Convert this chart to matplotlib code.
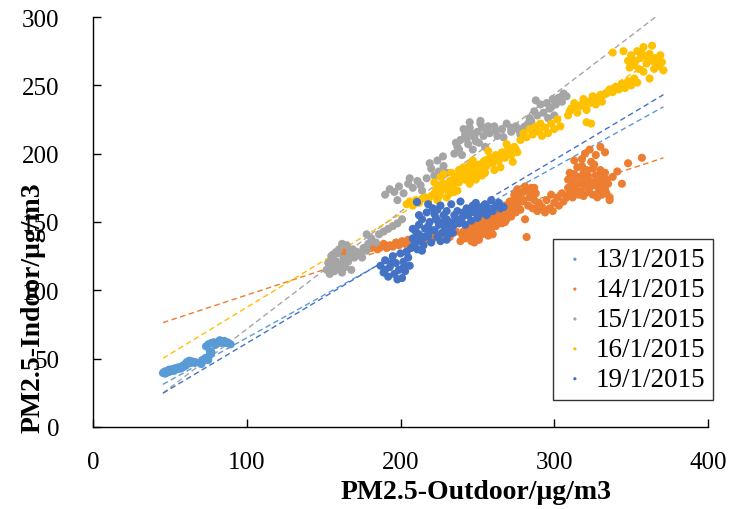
import numpy as np
import matplotlib
matplotlib.use("Agg")
import matplotlib.pyplot as plt

plt.rcParams['font.family'] = ['Liberation Serif', 'DejaVu Serif']

# ---- series labels and colours ----
labels = ["13/1/2015", "14/1/2015", "15/1/2015", "16/1/2015", "19/1/2015"]
colors = ["#5B9BD5", "#ED7D31", "#A5A5A5", "#FFC000", "#4472C4"]

# ---- 13/1/2015 ----
x13 = [45.5, 46.5, 47, 48, 48.5, 49.5, 50, 51, 52, 52.5, 53.5, 54, 55, 56, 57, 57.5, 58.5, 59, 60,
       60.5, 61, 62, 62.5, 63.5, 64.5, 65.5, 66.5,
       69.5, 70.5, 71, 72, 73, 74, 75, 75.5, 76.5, 77, 76,
       73.5, 75, 77, 78.5, 79.5, 80.5, 81.5, 82.5, 83.5, 84.5, 85.5, 86.5, 87.5, 88.5, 89.5]
y13 = [39.5, 40.5, 39, 41, 40, 42, 40.5, 41.5, 42.5, 41, 43, 42, 43.5, 42.5, 44, 43, 45, 44, 46,
       45, 47.5, 46.5, 48.5, 47, 48, 47, 47.5,
       47, 46, 49, 48.5, 50.5, 50, 49, 52, 53.5, 55, 55.5,
       59, 60.5, 61.5, 62, 60, 61, 62.5, 63.5, 61.5, 62.5, 63, 61.5, 62, 61, 60.5]

# ---- 14/1/2015 ----
x14 = [156, 160, 163, 165, 167,
       181, 183, 185, 187, 189, 191, 193, 195, 197, 199, 201, 203, 205, 207, 209, 211, 213, 215, 217,
       219, 221, 223,
       226, 229, 232, 236, 239, 240, 242, 243, 245, 246, 247, 248, 249, 250, 251, 252, 253, 254, 255,
       256, 257, 258, 259, 260,
       244, 248, 252, 256, 260, 264, 268, 272, 276, 280, 284, 288, 241, 250, 258, 266, 274,
       261, 262, 263, 264, 265, 266, 267, 268, 269, 270, 271, 272, 273, 274, 275, 276, 277, 278, 279,
       280, 281, 282, 283, 284, 285, 286, 287, 288, 289, 290, 276, 281, 287,
       292, 294, 295, 297, 298, 299, 300, 302, 303, 305, 306,
       308, 309, 310, 311, 312, 313, 314, 315, 316, 317, 318, 319, 320, 321, 322, 323, 324, 325, 326,
       327, 328, 329, 330, 331, 332, 333, 334, 335, 336, 318, 320, 323, 327, 330, 333, 326, 313,
       309, 311, 313, 315, 317, 319, 321, 323, 325, 327, 329, 331, 333, 310, 314, 318, 322, 326, 330,
       334,
       338, 341, 344, 348, 357, 336]
y14 = [126, 128, 125, 129, 127,
       131, 133, 130, 132, 134, 131, 133, 132, 135, 133, 136, 134, 137, 135, 136, 138, 136, 139, 137,
       140, 138, 141,
       140, 142, 139, 143, 136, 141, 138, 145, 140, 136, 143, 148, 139, 144, 137, 146, 141, 150, 143,
       147, 140, 152, 145, 149,
       147, 135, 150, 144, 141, 156, 150, 162, 167, 166, 172, 160, 143, 148, 155, 150, 170,
       154, 147, 157, 151, 160, 149, 155, 162, 152, 158, 165, 154, 160, 167, 157, 163, 170, 159, 165,
       172, 152, 139, 162, 168, 175, 160, 166, 171, 158, 164, 174, 176, 175,
       161, 157, 166, 160, 170, 158, 164, 168, 162, 171, 165,
       168, 175, 171, 180, 168, 185, 174, 190, 170, 178, 183, 169, 176, 188, 172, 180, 194, 170, 177,
       184, 168, 173, 180, 170, 176, 186, 171, 178, 168, 196, 200, 203, 199, 205, 201, 192, 195,
       181, 173, 178, 183, 172, 186, 179, 175, 189, 180, 176, 183, 174, 186, 171, 191, 184, 178, 188,
       181,
       183, 187, 178, 193, 197, 166]

# ---- 15/1/2015 ----
x15 = [152, 153, 154, 155, 156, 157, 158, 159, 160, 161, 162, 163, 164, 165, 166, 167, 168, 169,
       170, 172, 174, 176, 178, 179, 162, 158, 155, 159, 163, 167, 171, 175,
       181, 184, 186, 189, 192, 195, 198, 201, 178,
       190, 193, 196, 199, 202, 205, 208, 211, 213, 198, 206, 214,
       217, 220, 222, 225, 228, 230, 227.6, 219, 224,
       235, 237, 239, 240, 242, 244, 245, 247, 248, 250, 251, 252, 254, 255, 256,
       236, 238, 241, 243, 246, 249, 253, 257, 262, 267, 272, 277, 281, 285,
       258, 261, 263, 266, 269, 272, 275, 278, 280, 283, 286,
       284, 287, 289, 291, 288,
       293, 295, 297, 299, 301, 303, 305, 308, 300, 296, 245, 252, 298, 302, 306]
y15 = [115, 120, 112, 118, 124, 114, 121, 116, 130, 119, 113, 123, 117, 133, 121, 126, 115, 130,
       124, 128, 126, 131, 129, 134, 134, 128, 125, 127, 120, 129, 127, 124,
       138, 135, 141, 143, 145, 147, 149, 152, 141,
       170, 174, 172, 176, 171, 178, 175, 180, 177, 166, 182, 173,
       182, 189, 184, 187, 191, 186, 198, 193, 195,
       200, 205, 210, 199, 214, 207, 219, 203, 212, 216, 208, 222, 213, 205, 218,
       208, 203, 218, 211, 215, 209, 219, 220, 217, 212, 219, 217, 220, 224,
       215, 220, 213, 218, 222, 216, 220, 214, 219, 222, 217,
       226, 231, 228, 236, 239,
       230, 237, 233, 240, 236, 241, 238, 242, 228, 226, 223, 224, 234, 240, 244]

# ---- 16/1/2015 ----
x16 = [204, 206, 208, 210, 212, 214, 216, 218, 220,
       222, 224, 226, 228, 230, 232, 234, 236, 238, 240, 242, 244, 246, 248, 250, 225, 235, 245,
       223, 227, 231, 235, 239, 243, 247, 251, 255, 259, 263, 267, 271, 275,
       222, 226, 230, 233, 237, 241, 245, 249, 224, 228, 232, 238, 247, 253, 257, 261, 269, 273,
       252, 254, 256, 258, 260, 262, 264, 266, 268, 270, 272, 274, 276, 255, 265,
       278, 280, 282, 284, 286, 288, 290, 291,
       292, 294, 296, 298, 300, 302, 304,
       309, 311, 313, 315, 317, 319, 321, 321, 324, 323, 325, 327, 329, 331, 332,
       310, 314, 318, 322, 326, 330,
       334, 336, 338, 340, 342, 344, 346, 348, 350, 352, 354,
       338, 345,
       348, 350, 352, 354, 356, 358, 360, 362, 362, 363.6, 365, 366, 368, 370, 371, 358, 355,
       349, 353, 357, 361, 365, 369]
y16 = [163, 165, 162, 166, 164, 167, 168, 165, 169,
       171, 175, 172, 178, 174, 180, 176, 183, 179, 185, 181, 188, 183, 190, 186, 169, 172, 178,
       173, 177, 176, 181, 182, 186, 187, 192, 195, 195, 197, 200, 202, 203,
       179, 183, 168, 186, 173, 190, 192, 181, 166, 185, 171, 188, 195, 184, 202, 188, 207, 194,
       189, 194, 191, 197, 193, 199, 195, 201, 197, 204, 199, 205, 201, 186, 190,
       210, 215, 212, 218, 214, 220, 216, 222,
       213, 219, 215, 222, 218, 225, 220,
       228, 233, 237, 230, 235, 240, 232, 223, 222, 237, 242, 236, 240, 238, 243,
       231, 234, 236, 238, 241, 243,
       244, 247, 245, 249, 247, 251, 248, 253, 250, 255, 252,
       274, 275,
       268, 272, 265, 275, 270, 278, 266, 273, 255, 279, 262, 270, 264, 267, 261, 260, 262,
       263, 268, 273, 270, 267, 272]

# ---- 19/1/2015 ----
x19 = [187, 189, 190, 192, 193, 195, 196, 197, 199, 200, 201, 202, 203, 205, 206,
       190, 194, 198, 202, 204,
       207, 208, 209, 210, 211, 212, 213, 214, 215, 216, 217, 218, 219, 220, 221, 222, 223, 224, 225,
       226, 227, 228, 229, 230, 231, 232, 233, 234, 235, 236, 237, 210.7,
       208, 210, 212, 214, 216, 218, 220, 222, 224, 226, 228, 230, 232, 234, 236, 212, 218, 224, 230,
       238, 239, 240, 242, 243, 244, 246, 247, 248, 250, 251, 252, 254, 255, 256, 258, 259, 260, 262,
       264, 265, 267, 241, 245, 249, 253, 257]
y19 = [118, 113, 122, 110, 117, 125, 112, 120, 115, 127, 109, 121, 114, 124, 118,
       115, 120, 108, 117, 128,
       131, 138, 134, 143, 130, 148, 137, 152, 133, 145, 157, 140, 150, 135, 160, 144, 153, 139, 148,
       162, 142, 155, 146, 158, 141, 150, 163, 147, 155, 152, 158, 164.6,
       145, 135, 141, 129, 139, 147, 144, 156, 151, 136, 150, 137, 145, 142, 149, 155, 163, 159, 152,
       149, 165, 153, 148, 160, 155, 151, 162, 157, 153, 160, 156, 158, 163, 155, 160, 166, 158, 162,
       164, 160, 161, 157, 158, 164, 161, 157]

series_x = [x13, x14, x15, x16, x19]
series_y = [y13, y14, y15, y16, y19]

# linear trendline coefficients (slope, intercept) for each day
trend_slope = [0.624, 0.3705, 0.859, 0.683, 0.671]
trend_intercept = [2.8, 59.5, -14.3, 19.2, -5.8]

fig = plt.figure(figsize=(7.35, 5.10), dpi=100)
ax = fig.add_axes([0.1265, 0.1608, 0.8368, 0.8039])

for xs, ys, c, lab in zip(series_x, series_y, colors, labels):
    ax.scatter(xs, ys, s=34, color=c, edgecolors='none', label=lab, zorder=3)

all_x = np.concatenate([np.asarray(v, float) for v in series_x])
xr = np.array([all_x.min(), all_x.max()])
for m, b, c in zip(trend_slope, trend_intercept, colors):
    ax.plot(xr, m * xr + b, color=c, lw=1.0, ls=(0, (4, 2.5)), zorder=2)

ax.set_xlim(0, 400)
ax.set_ylim(0, 300)
ax.set_xticks([0, 100, 200, 300, 400])
ax.set_yticks([0, 50, 100, 150, 200, 250, 300])
ax.xaxis.set_tick_params(direction='in', length=6, width=1.0, labelsize=18, pad=17)
ax.yaxis.set_tick_params(direction='in', length=6, width=1.0, labelsize=18, pad=24)
for side in ('top', 'right'):
    ax.spines[side].set_visible(False)
for side in ('left', 'bottom'):
    ax.spines[side].set_linewidth(1.0)
    ax.spines[side].set_color('black')

fig.text(0.648, 0.035, "PM2.5-Outdoor/μg/m3", ha='center', va='center',
         fontsize=20, fontweight='bold')
fig.text(0.045, 0.396, "PM2.5-Indoor/μg/m3", ha='center', va='center',
         rotation=90, fontsize=20, fontweight='bold', zorder=5)

leg = fig.legend(loc='upper right', bbox_to_anchor=(0.970, 0.529), borderaxespad=0,
                 fontsize=19.5, markerscale=0.4, handletextpad=0.25, handlelength=1.0,
                 labelspacing=0.18, borderpad=0.3, frameon=True, fancybox=False)
leg.get_frame().set_edgecolor('black')
leg.get_frame().set_linewidth(1.0)

fig.savefig("out.png", dpi=100)
